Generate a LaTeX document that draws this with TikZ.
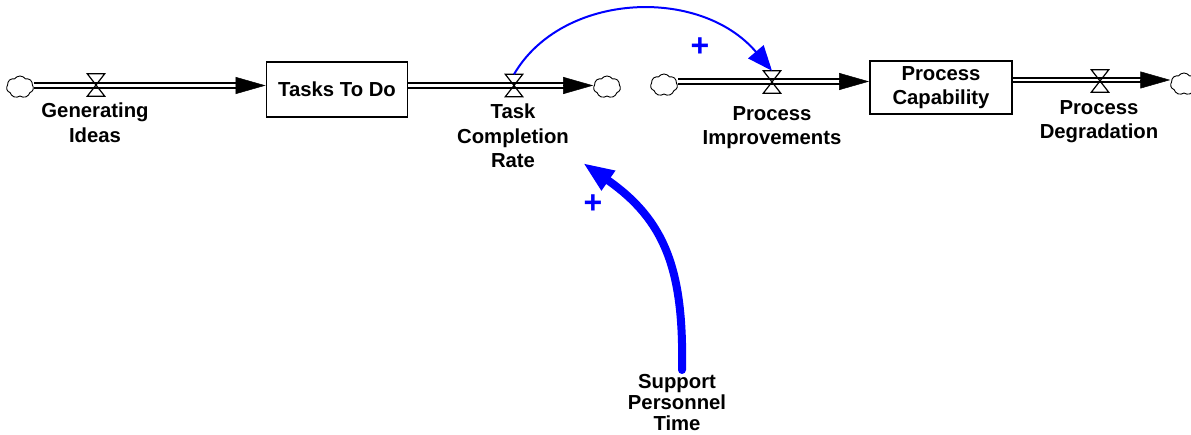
\documentclass[tikz,border=0pt]{standalone}
\usepackage{fontspec}
\setmainfont{Liberation Sans}
\usetikzlibrary{arrows.meta,shapes.symbols,calc}
\definecolor{lnkblue}{RGB}{0,0,255}
\newcommand\lblfont{\fontsize{20.3}{24.5}\selectfont\bfseries}
\newcommand\sgnfont{\fontsize{32}{32}\selectfont\bfseries}
\tikzset{
 stock/.style={draw, line width=1.8pt, inner sep=0, align=center, font=\lblfont},
 lbl/.style={align=center, inner sep=0, anchor=north, font=\lblfont},
 cloudnode/.style={cloud, cloud puffs=7, cloud puff arc=110, aspect=1.25, draw, line width=0.9pt, minimum width=27pt, minimum height=22pt, inner sep=0},
 valvenode/.style={inner sep=0, minimum width=17pt, minimum height=22pt},
 pipe/.style={double distance=2.6pt, line width=1.9pt, draw=black, double=white},
 pipehead/.style={-{Triangle[length=30pt,width=17pt]}, line width=0.5pt},
 valveline/.style={line width=1.2pt, line join=miter},
 link/.style={draw=lnkblue, line width=2pt, -{Triangle[length=25pt,width=20pt]}},
 biglink/.style={draw=lnkblue, line width=8pt, line cap=round, -{Triangle[length=31pt,width=22pt]}},
 sign/.style={text=lnkblue, font=\sgnfont, inner sep=0},
}
\begin{document}
\begin{tikzpicture}[x=1pt,y=-1pt]
\useasboundingbox (0,0) rectangle (1191,435);
% clouds, valves, stocks
\node[cloudnode] (c1) at (20,87) {};
\node[valvenode] (v1) at (96,85) {};
\node[stock, minimum width=141pt, minimum height=55pt] (ttd) at (337,89.5) {Tasks To Do};
\node[valvenode] (v2) at (514,85.5) {};
\node[cloudnode] (c2) at (607,87) {};
\node[cloudnode] (c3) at (664,85) {};
\node[valvenode] (v3) at (772,82) {};
\node[stock, minimum width=142pt, minimum height=53pt] (pc) at (941,87.5) {Process\\Capability};
\node[valvenode] (v4) at (1100,81) {};
\node[cloudnode] (c4) at (1184,84) {};
% pipes
\coordinate (r1) at (0,85.5);
\coordinate (r2) at (0,81.5);
\coordinate (r3) at (0,80);
\draw[pipe] (c1.east |- r1) -- ($(ttd.west |- r1)+(-27,0)$);
\draw[pipehead] ($(ttd.west |- r1)+(-30,0)$) -- (ttd.west |- r1);
\draw[pipe] (ttd.east |- r1) -- ($(c2.west |- r1)+(-27,0)$);
\draw[pipehead] ($(c2.west |- r1)+(-30,0)$) -- (c2.west |- r1);
\draw[pipe] (c3.east |- r2) -- ($(pc.west |- r2)+(-27,0)$);
\draw[pipehead] ($(pc.west |- r2)+(-30,0)$) -- (pc.west |- r2);
\draw[pipe] (pc.east |- r3) -- ($(c4.west |- r3)+(-27,0)$);
\draw[pipehead] ($(c4.west |- r3)+(-30,0)$) -- (c4.west |- r3);
\foreach \v in {v1,v2,v3,v4}
  \draw[valveline] (\v.north west) -- (\v.north east) -- (\v.south west) -- (\v.south east) -- cycle;
% labels
\node[lbl] (lgi) at (95,103) {Generating\\Ideas};
\node[lbl] (ltcr) at (513,104) {Task\\Completion\\Rate};
\node[lbl] (lpi) at (772,106) {Process\\Improvements};
\node[lbl] (lpd) at (1099,100) {Process\\Degradation};
\node[lbl, font=\fontsize{20.3}{21}\selectfont\bfseries] (spt) at (677,374) {Support\\Personnel\\Time};
% links
\draw[link] (v2.north) .. controls (562,-8) and (700,-14) .. (v3.north);
\coordinate (tcrin) at (583,163);
\draw[biglink] ($(spt.north)+(5,-4)$) .. controls (684,270) and (665,220) .. (tcrin);
\node[sign] (p1) at (700,47) {+};
\node[sign] (p2) at (593,204) {+};
\end{tikzpicture}
\end{document}
